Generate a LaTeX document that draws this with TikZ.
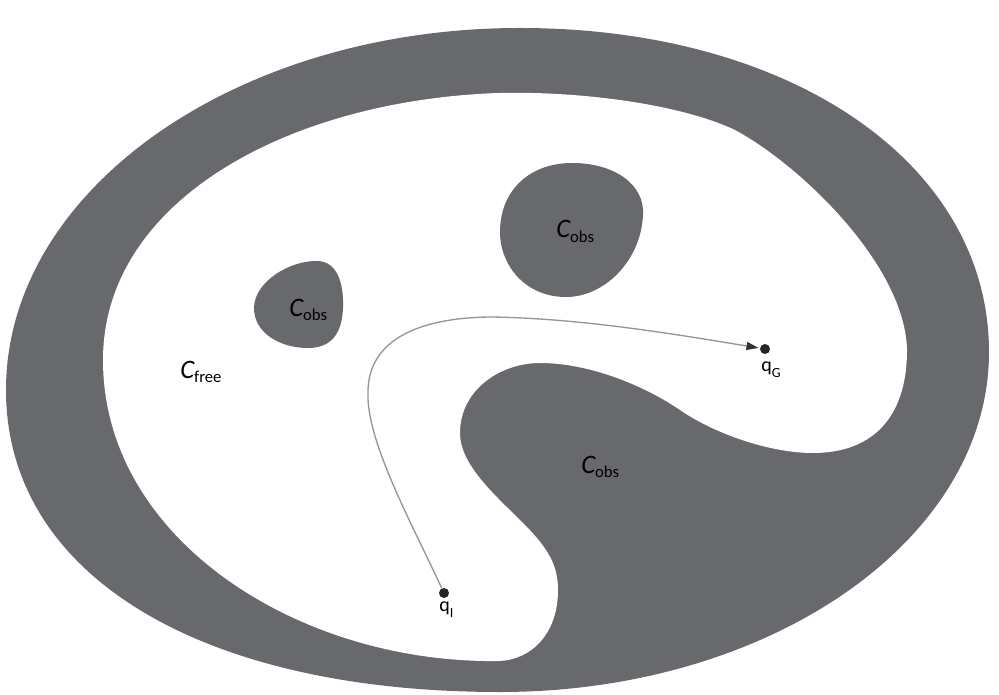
\documentclass[tikz,border=0pt]{standalone}
\usepackage{fontspec}
\setmainfont{Carlito}
\usetikzlibrary{arrows.meta}
\definecolor{obsgray}{RGB}{103,105,108}
\definecolor{pathgray}{RGB}{150,150,150}
\newcommand\Csub[1]{{\fontsize{20}{22}\selectfont\itshape C}\raisebox{-3.6pt}{\fontsize{12.5}{14}\selectfont #1}}
\newcommand\qsub[1]{q\raisebox{-4.5pt}{\fontsize{10.5}{12}\selectfont #1}}
\begin{document}
\begin{tikzpicture}[x=0.75pt,y=-0.75pt,
  lab/.style={inner sep=0pt, anchor=base west},
  qlab/.style={inner sep=0pt, anchor=base west, font=\fontsize{15}{17}\selectfont},
  dot/.style={circle, fill=black!85, inner sep=0pt, minimum size=7.5pt},
  route/.style={draw=pathgray, line width=1pt}]
\fill[white] (0,0) rectangle (999,695);
\useasboundingbox (0,0) rectangle (999,695);
% outer boundary (obstacle band)
\fill[obsgray] (520,28) .. controls (792,28) and (989,164) .. (989,352)
  .. controls (989,540) and (770,692) .. (500,692)
  .. controls (200,692) and (6,575) .. (6,390)
  .. controls (6,190) and (236,28) .. (520,28) -- cycle;
% free space
\fill[white] (499,661) .. controls (300,664) and (103,540) .. (103,360)
  .. controls (103,200) and (290,100) .. (499,93)
  .. controls (580,91) and (680,104) .. (735,130)
  .. controls (800,165) and (905,265) .. (907,350)
  .. controls (907,420) and (870,453) .. (813,453)
  .. controls (770,453) and (715,434) .. (680,410)
  .. controls (645,386) and (590,363) .. (540,363)
  .. controls (500,363) and (460,390) .. (460,433)
  .. controls (460,465) and (495,495) .. (523,523)
  .. controls (548,548) and (558,565) .. (558,590)
  .. controls (558,635) and (530,660) .. (499,661) -- cycle;
% small obstacle
\fill[obsgray] (318,261) .. controls (338,262) and (344,285) .. (343,308)
  .. controls (342,335) and (330,348) .. (308,348)
  .. controls (280,348) and (254,333) .. (254,308)
  .. controls (254,282) and (290,260) .. (318,261) -- cycle;
% top obstacle
\fill[obsgray] (572,163) .. controls (615,163) and (645,185) .. (643,215)
  .. controls (641,260) and (605,297) .. (566,297)
  .. controls (525,297) and (500,265) .. (500,232)
  .. controls (500,190) and (530,163) .. (572,163) -- cycle;
% labels
\node[lab] (cobsA) at (289,316) {\Csub{obs}};
\node[lab] (cobsB) at (556,238) {\Csub{obs}};
\node[lab] (cobsC) at (581,473) {\Csub{obs}};
\node[lab] (cfree) at (180,378) {\Csub{free}};
% start and goal
\node[dot] (qI) at (444,593) {};
\node[dot] (qG) at (765,349) {};
\node[qlab] (qIlab) at (439,611) {\qsub{I}};
\node[qlab] (qGlab) at (761,371) {\qsub{G}};
% path
\coordinate (m1) at (368,392);
\coordinate (m2) at (490,317);
\draw[route, -{Triangle[length=9pt,width=6pt,color=black!80]}, shorten >=1pt]
  (qI) .. controls (410,520) and (366,440) .. (m1)
       .. controls (368,345) and (410,318) .. (m2)
       .. controls (580,318) and (680,335) .. (qG);
\end{tikzpicture}
\end{document}
